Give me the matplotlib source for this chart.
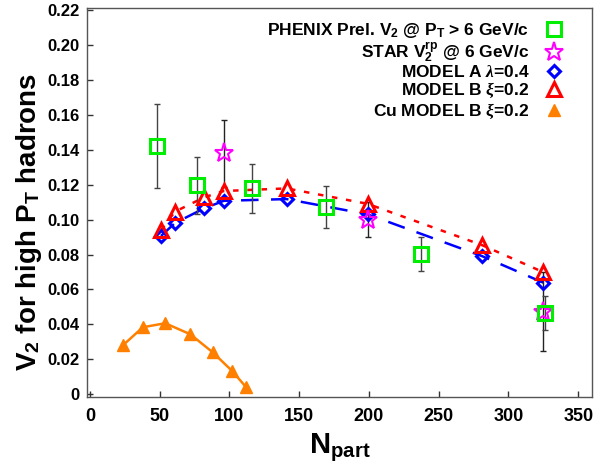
import matplotlib
matplotlib.use("Agg")
import matplotlib.pyplot as plt
from matplotlib.lines import Line2D

plt.rcParams['font.family'] = ['Liberation Sans', 'DejaVu Sans']
plt.rcParams['font.weight'] = 'bold'
plt.rcParams['mathtext.fontset'] = 'custom'
plt.rcParams['mathtext.rm'] = 'Liberation Sans'
plt.rcParams['mathtext.bf'] = 'Liberation Sans:bold'
plt.rcParams['mathtext.it'] = 'Liberation Serif:italic'

# PHENIX preliminary v2 @ pT > 6 GeV/c
phx_x = [48, 77, 116, 169, 237, 326]
phx_y = [0.142, 0.1195, 0.118, 0.107, 0.0803, 0.0464]
phx_err = [0.024, 0.0165, 0.014, 0.012, 0.0098, 0.0096]

# STAR v2{rp} @ 6 GeV/c
star_x = [96, 199, 325]
star_y = [0.1378, 0.100, 0.0473]
star_err = [0.019, 0.010, 0.0227]

# models (Au+Au)
model_x = [51, 61, 82, 96, 141, 199, 281, 325]
model_a = [0.0906, 0.098, 0.1064, 0.1107, 0.1117, 0.1030, 0.0791, 0.0639]
model_b = [0.094, 0.1045, 0.1127, 0.1163, 0.1178, 0.109, 0.0854, 0.0699]

# Cu+Cu model B
cu_x = [24, 38, 54, 72, 88, 102, 112]
cu_y = [0.0283, 0.0384, 0.0407, 0.0344, 0.0241, 0.0134, 0.0041]

x_ticks = [0, 50, 100, 150, 200, 250, 300, 350]
y_ticks = [0, 0.02, 0.04, 0.06, 0.08, 0.10, 0.12, 0.14, 0.16, 0.18, 0.20, 0.22]
y_ticklabels = ['0', '0.02', '0.04', '0.06', '0.08', '0.10', '0.12', '0.14',
                '0.16', '0.18', '0.20', '0.22']

labels = [
    r'PHENIX Prel. V$_\mathbf{2}$ $\mathrm{@}$ P$_\mathbf{T}$ > 6 GeV/c',
    r'STAR V$_\mathbf{2}^\mathbf{rp}$ $\mathrm{@}$ 6 GeV/c ',
    r'MODEL A $\lambda$=0.4',
    r'MODEL B $\xi$=0.2',
    r'Cu MODEL B $\xi$=0.2',
]

green = '#00ee00'
blue = '#0000ff'
red = '#ff0000'
magenta = '#ff00ff'
orange = '#ff8000'

fig = plt.figure(figsize=(6.13, 4.66), dpi=100)
ax = fig.add_axes([0.142, 0.148, 0.824, 0.835])

# model curves
ax.plot(model_x, model_a, color=blue, lw=1.8, dashes=(7, 5), zorder=2)
ax.plot(model_x, model_b, color=red, lw=1.8, dashes=(2.2, 3.5), zorder=2)
ax.plot(model_x, model_a, ls='none', marker='D', ms=6.5, mfc='none',
        mec=blue, mew=2.2, zorder=3)
ax.plot(model_x, model_b, ls='none', marker='^', ms=10, mfc='none',
        mec=red, mew=2.2, zorder=4)

# Cu curve
ax.plot(cu_x, cu_y, color=orange, lw=1.8, marker='^', ms=9, mec=orange,
        mfc=orange, zorder=3)

# data with error bars
ax.errorbar(star_x, star_y, yerr=star_err, fmt='none', ecolor='#222222',
            elinewidth=1, capsize=2, capthick=1, zorder=2)
ax.errorbar(phx_x, phx_y, yerr=phx_err, fmt='none', ecolor='#444444',
            elinewidth=1, capsize=2, capthick=1, zorder=2)
ax.plot(star_x, star_y, ls='none', marker='*', ms=14, mfc='none',
        mec=magenta, mew=1.5, zorder=5)
ax.plot(phx_x, phx_y, ls='none', marker='s', ms=9.5, mfc='none',
        mec=green, mew=2.2, zorder=6)

ax.set_xlim(-2, 360)
ax.set_ylim(-0.0015, 0.221)
ax.set_xticks(x_ticks)
ax.set_yticks(y_ticks)
ax.set_yticklabels(y_ticklabels)
ax.tick_params(direction='in', length=4, width=1, top=False, right=False,
               color='#333333')
ax.tick_params(axis='x', labelsize=13, pad=8)
ax.tick_params(axis='y', labelsize=12, pad=5.5)
for lab in ax.get_xticklabels() + ax.get_yticklabels():
    lab.set_fontweight('bold')
for sp in ax.spines.values():
    sp.set_color('#555555')
    sp.set_linewidth(1)

ax.set_xlabel(r'N$_\mathbf{part}$', fontsize=21, fontweight='bold')
ax.set_ylabel(r'V$_\mathbf{2}$ for high P$_\mathbf{T}$ hadrons', fontsize=20,
              fontweight='bold')
ax.xaxis.set_label_coords(0.5, -0.088)
ax.yaxis.set_label_coords(-0.085, 0.45)

handles = [
    Line2D([], [], ls='none', marker='s', ms=9.5, mfc='none', mec=green, mew=2.2),
    Line2D([], [], ls='none', marker='*', ms=14, mfc='none', mec=magenta, mew=1.5),
    Line2D([], [], ls='none', marker='D', ms=6.5, mfc='none', mec=blue, mew=2.2),
    Line2D([], [], ls='none', marker='^', ms=10, mfc='none', mec=red, mew=2.2),
    Line2D([], [], ls='none', marker='^', ms=9, mfc=orange, mec=orange),
]
ax.legend(handles, labels, loc='upper right', bbox_to_anchor=(0.955, 0.985),
          frameon=False, markerfirst=False, handlelength=1.0,
          handletextpad=0.9, labelspacing=0.02, borderaxespad=0,
          prop={'weight': 'bold', 'size': 12.5})

fig.savefig('out.png', dpi=100)
